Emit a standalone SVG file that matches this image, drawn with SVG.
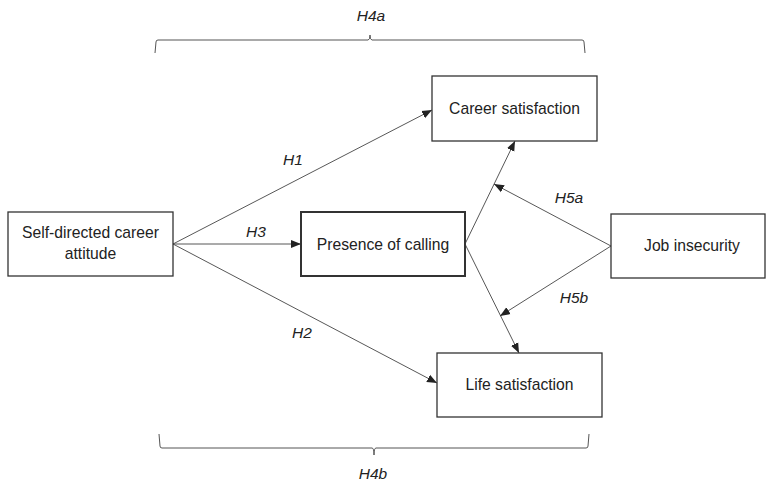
<svg xmlns="http://www.w3.org/2000/svg" width="766" height="483" viewBox="0 0 766 483">
<style>
.box{fill:#fff;stroke:#333;stroke-width:1.3}
.thick{stroke-width:2}
.t{font-family:"Liberation Sans",Arial,sans-serif;font-size:15.7px;fill:#222;text-anchor:middle}
.l{font-family:"Liberation Sans",Arial,sans-serif;font-size:15.5px;font-style:italic;fill:#222;text-anchor:middle}
.c{fill:none;stroke:#444;stroke-width:0.9}
.br{fill:none;stroke:#555;stroke-width:1}
</style>
<defs>
<marker id="ah" viewBox="0 0 10 10" refX="10" refY="5" markerWidth="10" markerHeight="10" markerUnits="userSpaceOnUse" orient="auto">
<path d="M0,1 L10,5 L0,9 Z" fill="#222"/>
</marker>
</defs>
<g id="connectors">
<line class="c" x1="173" y1="244" x2="432" y2="110" marker-end="url(#ah)"/>
<line class="c" x1="173" y1="244" x2="301" y2="244" marker-end="url(#ah)"/>
<line class="c" x1="173" y1="244" x2="437" y2="383" marker-end="url(#ah)"/>
<line class="c" x1="465" y1="244" x2="515" y2="141" marker-end="url(#ah)"/>
<line class="c" x1="465" y1="244" x2="519" y2="353" marker-end="url(#ah)"/>
<line class="c" x1="611" y1="246" x2="494" y2="184" marker-end="url(#ah)"/>
<line class="c" x1="611" y1="246" x2="500" y2="316" marker-end="url(#ah)"/>
</g>
<g id="labels">
<text class="l" x="293" y="165">H1</text>
<text class="l" x="256" y="237">H3</text>
<text class="l" x="302" y="338">H2</text>
<text class="l" x="569" y="203">H5a</text>
<text class="l" x="574" y="303">H5b</text>
<text class="l" x="371" y="21">H4a</text>
<text class="l" x="373" y="479">H4b</text>
</g>
<g id="brace-h4a">
<path class="br" d="M155,53 L156,42 Q156,40 158,40 L368,40 Q370,40 370,35 Q370,40 372,40 L582,40 Q584,40 584,42 L585,53"/>
</g>
<g id="brace-h4b">
<path class="br" d="M159,434 L160,446 Q160,448 162,448 L372,448 Q374,448 374,455 Q374,448 376,448 L586,448 Q588,448 588,446 L589,434"/>
</g>
<g id="self-directed">
<rect class="box" x="8" y="212" width="165" height="64"/>
<text class="t" x="90.5" y="238">Self-directed career</text>
<text class="t" x="90.5" y="259">attitude</text>
</g>
<g id="presence">
<rect class="box thick" x="301" y="212" width="164" height="64"/>
<text class="t" x="383" y="250">Presence of calling</text>
</g>
<g id="career-satisfaction">
<rect class="box" x="432" y="76" width="165" height="65"/>
<text class="t" x="514.5" y="114">Career satisfaction</text>
</g>
<g id="life-satisfaction">
<rect class="box" x="437" y="353" width="165" height="64"/>
<text class="t" x="519.5" y="390">Life satisfaction</text>
</g>
<g id="job-insecurity">
<rect class="box" x="611" y="214" width="154" height="64"/>
<text class="t" x="692" y="251">Job insecurity</text>
</g>
</svg>
